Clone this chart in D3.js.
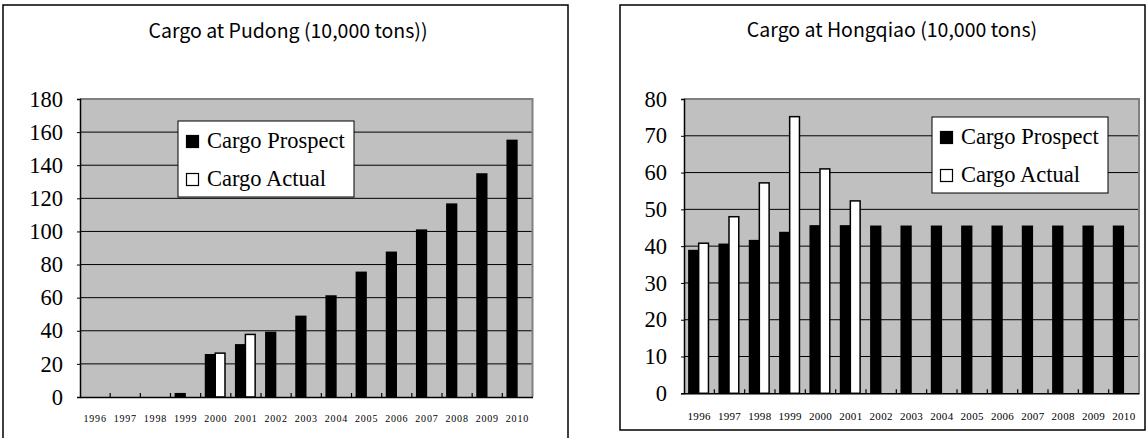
<!DOCTYPE html>
<html><head><meta charset="utf-8">
<script src="https://cdn.jsdelivr.net/npm/d3@7"></script>
<style>
html,body{margin:0;padding:0;background:#fff;}
svg{display:block;}
</style></head>
<body>
<svg id="chart" width="1148" height="438"></svg>
<script>
// ---- data ----
const years = ["1996","1997","1998","1999","2000","2001","2002","2003","2004","2005","2006","2007","2008","2009","2010"];
const seriesNames = ["Cargo Prospect", "Cargo Actual"];
const pudongProspect = [0, 0, 0, 2, 25.5, 31.5, 39, 48.7, 61, 75.3, 87.4, 100.8, 116.5, 134.7, 155];
const pudongActual   = [0, 0, 0, 0, 26.5, 37.8, 0, 0, 0, 0, 0, 0, 0, 0, 0];
const hongqiaoProspect = [38.8, 40.5, 41.5, 43.7, 45.5, 45.5, 45.4, 45.4, 45.4, 45.4, 45.4, 45.4, 45.4, 45.4, 45.4];
const hongqiaoActual   = [40.8, 48, 57.2, 75.2, 61, 52.3, 0, 0, 0, 0, 0, 0, 0, 0, 0];
const pudongTicks = [0, 20, 40, 60, 80, 100, 120, 140, 160, 180];
const hongqiaoTicks = [0, 10, 20, 30, 40, 50, 60, 70, 80];
const pudongTitle = "Cargo at Pudong (10,000 tons))";
const hongqiaoTitle = "Cargo at Hongqiao (10,000 tons)";

const svg = d3.select("#chart");
const SERIF = "'Liberation Serif','Times New Roman',serif";

function drawPanel(cfg) {
  const g = svg.append("g");
  // panel border
  g.append("rect").attr("x", cfg.panel[0]).attr("y", cfg.panel[1])
    .attr("width", cfg.panel[2]).attr("height", cfg.panel[3])
    .attr("fill", "#fff").attr("stroke", "#000").attr("stroke-width", 1.5);

  g.append("text").attr("x", cfg.titleX).attr("y", cfg.titleY)
    .attr("text-anchor", "middle")
    .attr("font-family", "'Noto Sans CJK JP','Noto Sans',sans-serif")
    .attr("font-size", 19.5).attr("fill", "#000")
    .text(cfg.title);

  const [x0, x1, y0, y1] = cfg.plot; // left, right, top, bottom
  const x = d3.scaleBand().domain(years).range([x0, x1]).padding(0);
  const y = d3.scaleLinear().domain([0, d3.max(cfg.ticks)]).range([y1, y0]);
  const xs = d3.scaleBand().domain(seriesNames).range([0, x.bandwidth()]).paddingInner(0).paddingOuter(0.55);

  // plot background
  g.append("rect").attr("x", x0).attr("y", y0).attr("width", x1 - x0).attr("height", y1 - y0)
    .attr("fill", "#c0c0c0");
  // gridlines
  g.append("g").selectAll("line").data(cfg.ticks.slice(1, -1)).join("line")
    .attr("x1", x0).attr("x2", x1).attr("y1", d => y(d)).attr("y2", d => y(d))
    .attr("stroke", "#000").attr("stroke-width", 1);
  // top/right gray border
  g.append("path").attr("d", `M${x0},${y0}H${x1}V${y1}`)
    .attr("fill", "none").attr("stroke", "#808080").attr("stroke-width", 2);

  // bars
  const rows = years.map((yr, i) => ({ yr, vals: [cfg.prospect[i], cfg.actual[i]] }));
  const grp = g.append("g").selectAll("g").data(rows).join("g")
    .attr("transform", d => `translate(${x(d.yr)},0)`);
  grp.selectAll("rect").data(d => d.vals.map((v, k) => ({ v, s: seriesNames[k], k })).filter(e => e.v > 0))
    .join("rect")
    .attr("x", e => xs(e.s) - 0.5).attr("width", xs.bandwidth())
    .attr("y", e => y(e.v)).attr("height", e => y(0) - y(e.v))
    .attr("fill", e => e.k === 0 ? "#000" : "#fff")
    .attr("stroke", "#000").attr("stroke-width", 1.5);

  // y axis
  const ya = g.append("g").attr("transform", `translate(${x0},0)`)
    .call(d3.axisLeft(y).tickValues(cfg.ticks).tickSize(3).tickPadding(14).tickFormat(d3.format("d")));
  ya.attr("font-family", SERIF).attr("font-size", 22.5);
  ya.select(".domain").attr("stroke", "#000").attr("stroke-width", 1.5);
  ya.selectAll(".tick line").attr("stroke", "#000");
  ya.selectAll("text").attr("fill", "#000");

  // x axis
  const xa = g.append("g").attr("transform", `translate(0,${y1})`)
    .call(d3.axisBottom(x).tickSize(0).tickPadding(cfg.xPad));
  xa.attr("font-family", SERIF).attr("font-size", cfg.xFont);
  xa.select(".domain").attr("stroke", "#000").attr("stroke-width", 1.5);
  xa.selectAll("text").style("letter-spacing", cfg.xSpacing).attr("fill", "#000");
  // inside tick marks at category boundaries
  g.append("g").selectAll("line").data(years.slice(1)).join("line")
    .attr("x1", d => x(d)).attr("x2", d => x(d))
    .attr("y1", y1).attr("y2", y1 - 4)
    .attr("stroke", "#000").attr("stroke-width", 1.2);

  // legend
  const [lx, ly] = cfg.legend;
  const lg = g.append("g").attr("transform", `translate(${lx},${ly})`);
  lg.append("rect").attr("width", 176).attr("height", 76)
    .attr("fill", "#fff").attr("stroke", "#000").attr("stroke-width", 1);
  const li = lg.selectAll("g.item").data(seriesNames).join("g").attr("class", "item")
    .attr("transform", (d, i) => `translate(0,${i * 38})`);
  li.append("rect").attr("x", 8.5).attr("y", 14.5).attr("width", 12).attr("height", 12)
    .attr("fill", (d, i) => i === 0 ? "#000" : "#fff").attr("stroke", "#000").attr("stroke-width", 1.2);
  li.append("text").attr("x", 29).attr("y", 27)
    .attr("font-family", SERIF)
    .attr("font-size", 22.5).attr("fill", "#000").text(d => d);
}

drawPanel({
  panel: [3, 5, 565, 445], title: pudongTitle, titleX: 288, titleY: 38,
  plot: [80, 532.5, 99, 397], ticks: pudongTicks,
  prospect: pudongProspect, actual: pudongActual,
  xPad: 18, xFont: 10, xSpacing: "0.8px", legend: [178, 121]
});
drawPanel({
  panel: [620, 5, 525, 425], title: hongqiaoTitle, titleX: 892, titleY: 37,
  plot: [684, 1139, 99, 393.3], ticks: hongqiaoTicks,
  prospect: hongqiaoProspect, actual: hongqiaoActual,
  xPad: 19, xFont: 11, xSpacing: "0.3px", legend: [932, 117]
});
</script>
</body></html>
